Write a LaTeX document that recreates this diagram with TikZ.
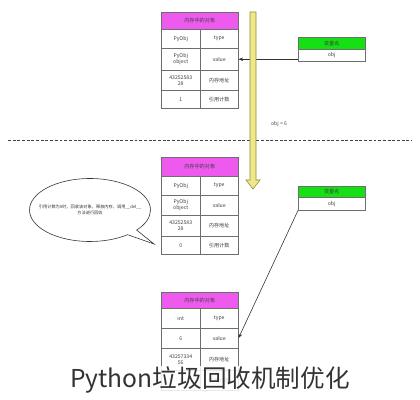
\documentclass[tikz,border=0pt]{standalone}
\usepackage{fontspec}
\setmainfont{Noto Sans CJK SC}
\usetikzlibrary{shapes.callouts,shapes.geometric,arrows.meta}
\definecolor{hdrmag}{RGB}{238,90,238}
\definecolor{hdrgrn}{RGB}{20,224,20}
\definecolor{gridc}{RGB}{110,110,110}
\definecolor{yelfill}{RGB}{238,232,140}
\definecolor{yeldraw}{RGB}{150,140,40}
\newcommand\tinyf{\fontsize{4.4}{5.2}\selectfont}
\newcommand\Cell[6]{\node[cellbox, minimum width={#4*0.03cm}, minimum height={#5*0.03cm}] (#1) at (#2,#3) {#6};}
\begin{document}
\begin{tikzpicture}[x=0.03cm,y=-0.03cm,
  cellbox/.style={draw=gridc, line width=0.4pt, anchor=north west, inner sep=0pt, align=center, font=\tinyf, text=black!75},
  maghdr/.style={fill=hdrmag},
  grnhdr/.style={fill=hdrgrn},
  ptr/.style={draw=black!80, line width=0.5pt, -{Stealth[length=4pt,width=3pt]}},
]
\useasboundingbox[fill=white] (0,0) rectangle (420,400);

% ---- table 1 ----
\Cell{t1h}{161}{12}{77}{17}{}
\fill[hdrmag] (t1h.north west) rectangle (t1h.south east);
\Cell{t1h}{161}{12}{77}{17}{内存中的对象}
\Cell{t1tv}{161}{29}{39}{19}{PyObj}
\Cell{t1type}{200}{29}{38}{19}{type}
\Cell{t1vv}{161}{48}{39}{22}{PyObj\\object}
\Cell{t1value}{200}{48}{38}{22}{value}
\Cell{t1av}{161}{70}{39}{20}{43252583\\28}
\Cell{t1addr}{200}{70}{38}{20}{内存地址}
\Cell{t1rv}{161}{90}{39}{18}{1}
\Cell{t1ref}{200}{90}{38}{18}{引用计数}

% ---- green box 1 ----
\node[cellbox, grnhdr, minimum width={67*0.03cm}, minimum height={12*0.03cm}] (g1h) at (298,37) {变量名};
\node[cellbox, minimum width={67*0.03cm}, minimum height={12*0.03cm}] (g1o) at (298,49) {obj};

\draw[ptr] (t1value.east -| g1o.west) -- (t1value.east);

% ---- dashed separator ----
\coordinate (dl) at (8,140);
\coordinate (dr) at (412,140);
\draw[gridc!60!black, line width=0.5pt, dash pattern=on 2.5pt off 1.5pt] (dl) -- (dr);

% ---- yellow arrow ----
\coordinate (ya) at (253,12);
\coordinate (yb) at (253,189);
\filldraw[fill=yelfill, draw=yeldraw, line width=0.5pt]
  ([xshift=-3*0.03cm]ya) -- ([xshift=3*0.03cm]ya) -- ([xshift=3*0.03cm, yshift=9*0.03cm]yb)
  -- ([xshift=7*0.03cm, yshift=9*0.03cm]yb) -- (yb) -- ([xshift=-7*0.03cm, yshift=9*0.03cm]yb)
  -- ([xshift=-3*0.03cm, yshift=9*0.03cm]yb) -- cycle;
\node[font=\tinyf, text=black!70] (lbl) at (279,124) {obj = 6};

% ---- table 2 ----
\Cell{t2h}{161}{157}{77}{19}{}
\fill[hdrmag] (t2h.north west) rectangle (t2h.south east);
\Cell{t2h}{161}{157}{77}{19}{内存中的对象}
\Cell{t2tv}{161}{176}{39}{19}{PyObj}
\Cell{t2type}{200}{176}{38}{19}{type}
\Cell{t2vv}{161}{195}{39}{20}{PyObj\\object}
\Cell{t2value}{200}{195}{38}{20}{value}
\Cell{t2av}{161}{215}{39}{21}{43252583\\28}
\Cell{t2addr}{200}{215}{38}{21}{内存地址}
\Cell{t2rv}{161}{236}{39}{18}{0}
\Cell{t2ref}{200}{236}{38}{18}{引用计数}

% ---- green box 2 ----
\node[cellbox, grnhdr, minimum width={67*0.03cm}, minimum height={11*0.03cm}] (g2h) at (298,186) {变量名};
\node[cellbox, minimum width={67*0.03cm}, minimum height={13*0.03cm}] (g2o) at (298,197) {obj};

% ---- speech bubble ----
\coordinate (tip) at (154,244);
\node[ellipse callout, draw=black!80, line width=0.5pt, fill=white, minimum width={121*0.03cm}, minimum height={63*0.03cm},
      callout absolute pointer={(tip)}, callout pointer arc=12, font=\fontsize{3.6}{4.6}\selectfont, align=center, text=black!80, inner sep=0pt]
  (bubble) at (90,210) {\makebox[0pt]{引用计数为0时，回收该对象，释放内存，调用\_\_del\_\_}\\\makebox[0pt]{方法进行回收}};

% ---- table 3 ----
\Cell{t3h}{161}{292}{77}{16}{}
\fill[hdrmag] (t3h.north west) rectangle (t3h.south east);
\Cell{t3h}{161}{292}{77}{16}{内存中的对象}
\Cell{t3tv}{161}{308}{39}{20}{int}
\Cell{t3type}{200}{308}{38}{20}{type}
\Cell{t3vv}{161}{328}{39}{20}{6}
\Cell{t3value}{200}{328}{38}{20}{value}
\Cell{t3av}{161}{348}{39}{22}{43257334\\56}
\Cell{t3addr}{200}{348}{38}{22}{内存地址}
\Cell{t3rv}{161}{370}{39}{20}{1}
\Cell{t3ref}{200}{370}{38}{20}{引用计数}

\draw[ptr] (g2o.south west) -- (t3value.east);

% ---- caption ----
\node[font=\fontsize{21}{24}\selectfont, text=black!80, fill=white, fill opacity=0.85, text opacity=1, inner sep=1pt] (cap) at (210,380) {Python垃圾回收机制优化};
\end{tikzpicture}
\end{document}
